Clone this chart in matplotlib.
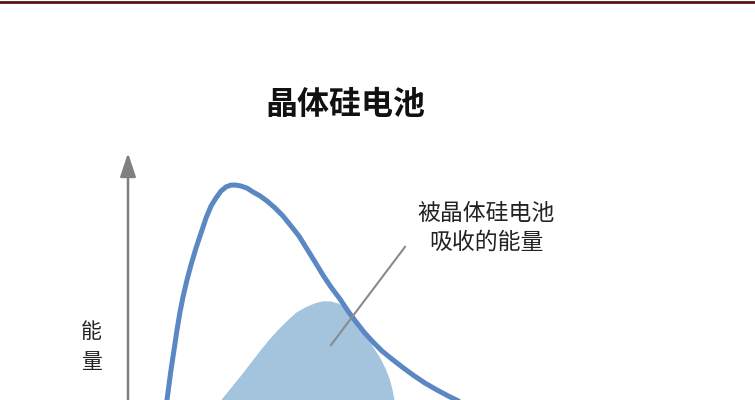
import matplotlib
matplotlib.use("Agg")
import matplotlib.pyplot as plt
from matplotlib.lines import Line2D

plt.rcParams['font.family'] = ['Noto Sans CJK SC', 'DejaVu Sans']

# ---- data (wavelength in nm-like units, energy in arbitrary units) ----
spectrum_wl = [165, 175, 185, 195, 205, 215, 230, 245, 260, 275, 295, 315, 340,
               365, 390, 415, 440, 465, 490, 515, 540, 565, 595, 625, 660, 695,
               735, 775, 815, 855, 895, 935, 975, 1015, 1060, 1100, 1140, 1180,
               1225, 1270, 1320, 1370, 1425, 1485, 1545, 1610, 1685, 1760, 1860]
spectrum_e = [0, 5, 10.7, 16.7, 21.7, 26.7, 33.3, 40, 46, 51, 56.7, 61.7, 67.3,
              72.3, 77.3, 81.3, 84, 86.3, 87.7, 88.3, 88.3, 88, 87.3, 86, 84.7,
              83, 80.7, 78, 74.7, 71.3, 67, 62.7, 58.3, 54.3, 50.3, 46.3, 42.7,
              39.3, 36, 33, 30.3, 27.7, 25, 22.3, 20, 17.7, 15.3, 13.3, 11]

absorbed_wl = [310, 350, 390, 430, 470, 515, 560, 610, 660, 705, 750, 795, 840,
               885, 930, 970, 1010, 1050, 1085, 1120, 1155, 1190, 1225, 1260,
               1285, 1305, 1320, 1330, 1340, 1345]
absorbed_e = [0, 4.3, 8.7, 13.3, 17.3, 21, 24.7, 29, 33.3, 37, 40.3, 43.3, 46,
              47.7, 49, 49.7, 49.7, 49, 47.3, 45, 41.7, 38, 34.3, 30.7, 27.3,
              24, 20.3, 16.7, 10, 0]

title_text = "晶体硅电池"
note_text = "被晶体硅电池\n吸收的能量"
ylabel_text = "能\n量"

leader_wl = [1385, 1015]
leader_e = [67.7, 35]

x_range = (0, 3135)
y_range = (0, 99)

# ---- figure ----
fig = plt.figure(figsize=(7.55, 4.0), dpi=100)
fig.patch.set_facecolor('white')

# top decorative rule
fig.add_artist(Line2D([0, 1], [0.995, 0.995], transform=fig.transFigure,
                      color='#5c1414', lw=2.0))

ax = fig.add_axes([128 / 755, -0.125, 627 / 755, 0.7425])
ax.set_xlim(*x_range)
ax.set_ylim(*y_range)
ax.axis('off')

ax.fill_between(absorbed_wl, absorbed_e, 0, color='#a4c3dd', lw=0,
                zorder=1)
ax.plot(spectrum_wl, spectrum_e, color='#5b87c2', lw=3.6,
        solid_capstyle='round', solid_joinstyle='round', zorder=3)
ax.plot(leader_wl, leader_e, color='#8a8a8a', lw=1.5, zorder=4)

ax.annotate('', xy=(0, y_range[1]), xytext=(0, y_range[0]),
            arrowprops=dict(arrowstyle='-|>,head_length=0.6,head_width=0.2',
                            color='#808080', lw=1.8, mutation_scale=24,
                            shrinkA=0, shrinkB=0),
            annotation_clip=False)

ax.text(1085, 115, title_text, ha='center', va='center', fontsize=23,
        fontweight='bold', color='#111111', clip_on=False)
ax.text(1790, 74, note_text, ha='center', va='center', fontsize=16.5,
        color='#222222', linespacing=1.3, clip_on=False)
ax.text(-185, 34.3, ylabel_text, ha='center', va='center', fontsize=15,
        color='#222222', linespacing=1.45, clip_on=False)

fig.savefig('out.png', dpi=100, facecolor='white')
